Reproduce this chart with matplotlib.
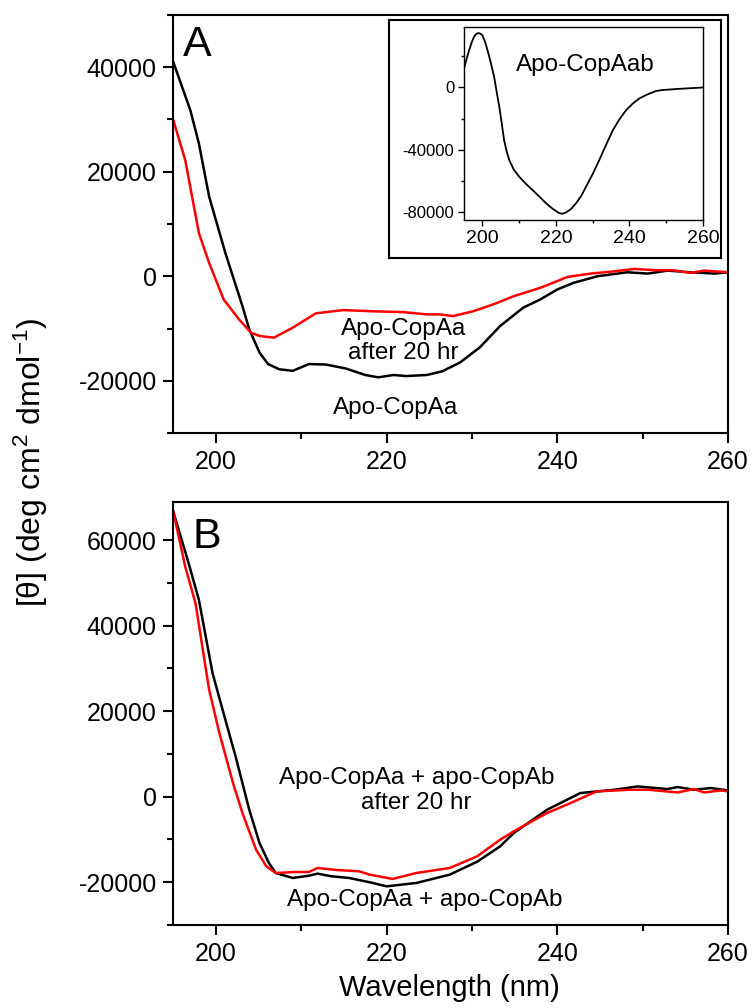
import numpy as np
import matplotlib
matplotlib.use("Agg")
import matplotlib.pyplot as plt
from matplotlib.ticker import MultipleLocator

plt.rcParams['font.family'] = ['Liberation Sans', 'DejaVu Sans']
plt.rcParams['mathtext.fontset'] = 'custom'
plt.rcParams['mathtext.rm'] = 'Liberation Sans'
plt.rcParams['mathtext.it'] = 'Liberation Sans:italic'
plt.rcParams['axes.unicode_minus'] = False

# Panel A: apo-CopAa, fresh (black) and after 20 hr (red)
a_black_wl = [195, 197.0, 198.0, 199.2, 201.1, 203.1, 203.9, 205.1, 206.1, 207.4,
              209.0, 210.9, 212.9, 215.2, 217.5, 219.0, 220.8, 222.3, 224.7, 226.5,
              228.6, 230.9, 233.3, 236.0, 238.0, 240.0, 241.9, 244.7, 248.2, 250.6,
              252.9, 255.6, 258.4, 260]
a_black = [41000, 31750, 25400, 15240, 4460, -5710, -10150, -14600, -16800, -17800,
           -18100, -16800, -16900, -17650, -18900, -19350, -18900, -19100, -18900, -18200,
           -16500, -13640, -9520, -6020, -4440, -2530, -1260, 0, 760, 510,
           1080, 760, 510, 760]

a_red_wl = [195, 196.4, 198.0, 199.2, 200.9, 202.7, 204.1, 205.1, 206.8, 209.0,
            211.7, 214.9, 218.8, 221.9, 224.7, 226.2, 227.8, 230.2, 232.5, 234.9,
            238.0, 241.2, 243.9, 246.7, 249.0, 251.7, 253.6, 255.6, 257.2, 260]
a_red = [29850, 22230, 8270, 2550, -4440, -8250, -10790, -11430, -11750, -9840,
         -7100, -6480, -6730, -6860, -7300, -7300, -7620, -6670, -5390, -3810,
         -2220, -130, 510, 950, 1400, 1140, 1140, 650, 1080, 760]

# Inset: apo-CopAab
ab_wl = [194.8, 195.6, 196.4, 197.1, 197.7, 198.3, 198.8, 199.4, 200.0, 200.7,
         201.4, 202.3, 203.2, 203.9, 204.6, 205.3, 205.9, 206.6, 207.3, 208.5,
         210.0, 211.8, 213.6, 215.5, 217.3, 219.2, 220.9, 221.8, 222.7, 224.1,
         225.5, 226.9, 228.2, 230.0, 231.8, 233.7, 235.5, 237.3, 239.1, 240.9,
         242.7, 245.0, 247.3, 249.1, 250.9, 253.2, 255.5, 257.8, 260]
ab = [10000, 17500, 23900, 29000, 32400, 34300, 34900, 34600, 33500, 29500,
      23900, 15800, 6800, -3000, -12400, -23500, -33700, -41000, -46500, -52500,
      -57200, -61700, -65700, -70000, -74200, -78000, -80600, -81000, -80200, -78000,
      -74200, -69500, -63600, -55500, -46500, -36500, -27300, -20300, -14500, -10300,
      -7000, -4300, -2200, -1600, -1300, -900, -600, -300, 0]

# Panel B: apo-CopAa + apo-CopAb, fresh (black) and after 20 hr (red)
b_black_wl = [195, 196.8, 198.0, 199.6, 201.1, 202.3, 203.9, 205.1, 206.2, 207.0,
              209.0, 210.9, 211.9, 213.5, 215.6, 218.0, 220.0, 223.5, 227.4, 230.6,
              233.3, 234.9, 238.8, 242.7, 246.7, 249.4, 252.9, 254.1, 256.0, 258.0, 260]
b_black = [66660, 54600, 46030, 28900, 17990, 9420, -3040, -10820, -15490, -17830,
           -19000, -18460, -17990, -18600, -19000, -20000, -20960, -20160, -18220, -15200,
           -11610, -8480, -3040, 860, 1640, 2410, 1800, 2260, 1640, 2030, 1480]

b_red_wl = [195, 196.4, 197.6, 199.2, 200.4, 202.0, 203.1, 204.7, 205.9, 207.0,
            209.4, 210.9, 211.9, 214.1, 216.8, 218.0, 220.7, 223.5, 227.4, 230.6,
            233.3, 234.9, 238.8, 241.1, 244.6, 248.6, 250.6, 254.1, 256.0, 257.2, 259.2, 260]
b_red = [66660, 53800, 45260, 25000, 14880, 3200, -3810, -12380, -16280, -17830,
         -17600, -17600, -16660, -17130, -17450, -18220, -19230, -17830, -16660, -13950,
         -10050, -8100, -3800, -1870, 1240, 1640, 1640, 1000, 1800, 1000, 1480, 1250]

W, H = 756, 1008
fig = plt.figure(figsize=(W / 100, H / 100), dpi=100)


def style_axis(ax, size=18, major=7, minor=4.5, width=1.5):
    for s in ax.spines.values():
        s.set_linewidth(width)
    ax.tick_params(which='major', direction='out', length=major, width=width,
                   labelsize=size, pad=5)
    ax.tick_params(which='minor', direction='out', length=minor, width=width)


# Panel A
axA = fig.add_axes([173.3 / W, 1 - 433 / H, (728 - 173.3) / W, (433 - 15) / H])
axA.plot(a_black_wl, a_black, color='black', lw=1.8)
axA.plot(a_red_wl, a_red, color='red', lw=1.8)
axA.set_xlim(195, 260)
axA.set_ylim(-30000, 50000)
axA.set_yticks([-20000, 0, 20000, 40000])
axA.yaxis.set_minor_locator(MultipleLocator(10000))
axA.set_xticks([200, 220, 240, 260])
axA.xaxis.set_minor_locator(MultipleLocator(10))
style_axis(axA)
axA.text(0.018, 0.975, 'A', transform=axA.transAxes, fontsize=31, va='top', ha='left')
axA.text(222, -12400, 'Apo-CopAa\nafter 20 hr', fontsize=17.5, ha='center', va='center',
         linespacing=1.15)
axA.text(221, -25300, 'Apo-CopAa', fontsize=17.5, ha='center', va='center')

# frame around inset
frame = fig.add_axes([389 / W, 1 - 258 / H, (721 - 389) / W, (258 - 20) / H])
frame.set_xticks([])
frame.set_yticks([])
for s in frame.spines.values():
    s.set_linewidth(1.5)

axI = fig.add_axes([464 / W, 1 - 220 / H, (703 - 464) / W, (220 - 26.7) / H])
axI.plot(ab_wl, ab, color='black', lw=1.3)
axI.set_xlim(195, 260)
axI.set_ylim(-85000, 39000)
axI.set_yticks([-80000, -40000, 0])
axI.yaxis.set_minor_locator(MultipleLocator(20000))
axI.set_xticks([200, 220, 240, 260])
axI.xaxis.set_minor_locator(MultipleLocator(10))
style_axis(axI, size=12.5, major=4, minor=2.5, width=1.0)
axI.tick_params(axis='y', labelsize=12, pad=3)
axI.tick_params(axis='x', labelsize=14, pad=3)
axI.text(228, 14500, 'Apo-CopAab', fontsize=17.5, ha='center', va='center')

# Panel B
axB = fig.add_axes([173.3 / W, 1 - 925 / H, (728 - 173.3) / W, (925 - 501.7) / H])
axB.plot(b_black_wl, b_black, color='black', lw=1.8)
axB.plot(b_red_wl, b_red, color='red', lw=1.8)
axB.set_xlim(195, 260)
axB.set_ylim(-30000, 69000)
axB.set_yticks([-20000, 0, 20000, 40000, 60000])
axB.yaxis.set_minor_locator(MultipleLocator(10000))
axB.set_xticks([200, 220, 240, 260])
axB.xaxis.set_minor_locator(MultipleLocator(10))
style_axis(axB)
axB.text(0.035, 0.965, 'B', transform=axB.transAxes, fontsize=31, va='top', ha='left')
axB.text(223.5, 1400, 'Apo-CopAa + apo-CopAb\nafter 20 hr', fontsize=17.5,
         ha='center', va='center', linespacing=1.15)
axB.text(224.5, -24200, 'Apo-CopAa + apo-CopAb', fontsize=17.5, ha='center', va='center')

fig.text(449 / W, 1 - 988 / H, 'Wavelength (nm)', fontsize=21,
         ha='center', va='center')
fig.text(31 / W, 1 - 462 / H, '[θ] (deg cm$^{2}$ dmol$^{-1}$)', rotation=90,
         fontsize=23, ha='center', va='center')

fig.savefig('out.png', dpi=100)
